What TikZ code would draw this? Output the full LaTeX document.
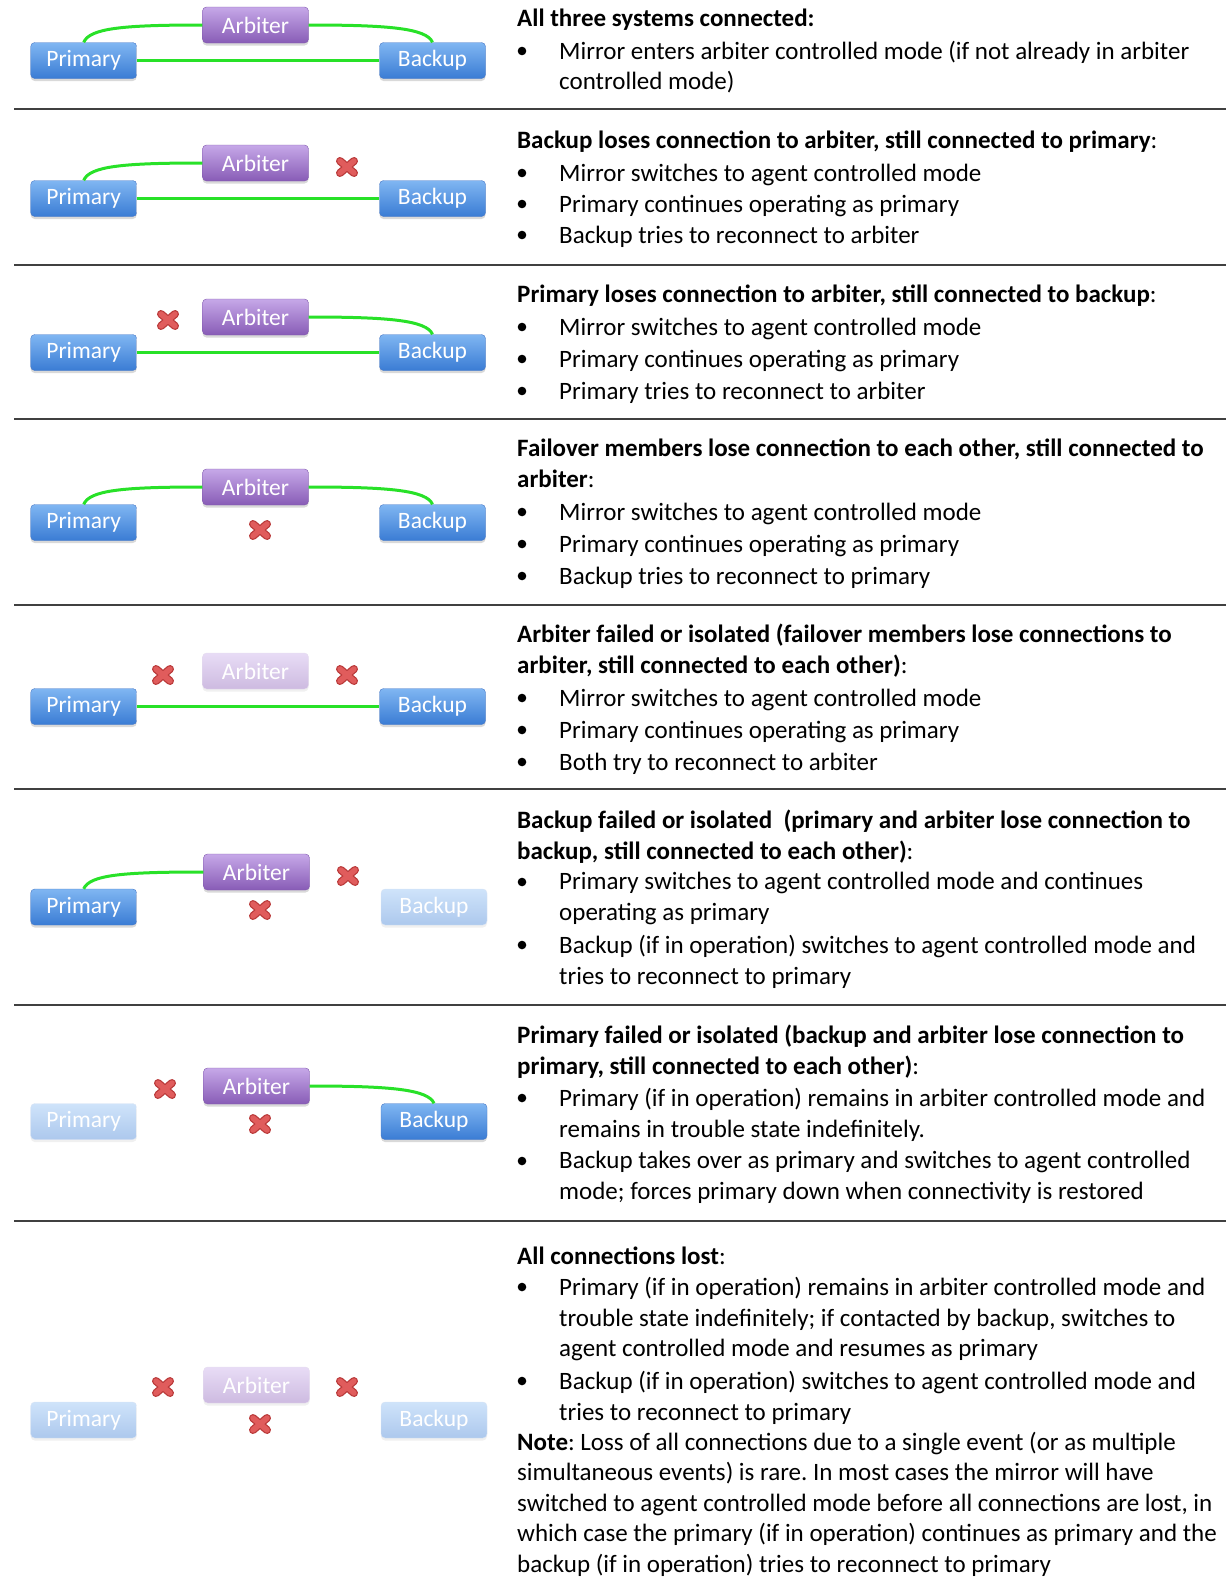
\documentclass[tikz,border=0pt]{standalone}
\usepackage{fontspec}
\setmainfont{Carlito}
\usetikzlibrary{shadows}
\frenchspacing

\definecolor{linkgreen}{RGB}{40,225,40}
\definecolor{bluetop}{RGB}{128,182,242}
\definecolor{bluebot}{RGB}{58,124,212}
\definecolor{blueedge}{RGB}{72,120,198}
\definecolor{purptop}{RGB}{198,168,232}
\definecolor{purpbot}{RGB}{136,92,182}
\definecolor{purpedge}{RGB}{128,88,172}
\definecolor{crossred}{RGB}{224,92,92}
\definecolor{crossedge}{RGB}{186,58,58}
\definecolor{rulegray}{RGB}{64,64,64}

\begin{document}
\begin{tikzpicture}[x=1pt, y=-1pt,
    % Styles
    box/.style={rounded corners=4pt, minimum width=106pt, minimum height=36pt, inner sep=0pt, text=white, font=\fontsize{23.5}{28}\selectfont},
    member/.style={box, draw=blueedge, top color=bluetop, bottom color=bluebot, drop shadow={shadow xshift=0pt, shadow yshift=-2.5pt, opacity=0.3}},
    arbiter/.style={box, draw=purpedge, top color=purptop, bottom color=purpbot, drop shadow={shadow xshift=0pt, shadow yshift=-2.5pt, opacity=0.3}},
    downmember/.style={box, draw=blueedge!20, top color=bluetop!38, bottom color=bluebot!42, drop shadow={shadow xshift=0pt, shadow yshift=-2.5pt, opacity=0.12}},
    downarbiter/.style={box, draw=purpedge!20, top color=purptop!40, bottom color=purpbot!42, drop shadow={shadow xshift=0pt, shadow yshift=-2.5pt, opacity=0.12}},
    link/.style={linkgreen, line width=3pt},
    sep/.style={rulegray, line width=1.6pt},
    txt/.style={anchor=north west, yshift=21pt, inner sep=0pt, align=left, font=\fontsize{25}{30.5}\selectfont, execute at begin node={\rule{0pt}{21pt}}},
    head/.style={txt},
    item/.style={txt},
    lost/.pic={
        \draw[crossedge, line width=8pt, line cap=round] (-7,-6) -- (7,6) (-7,6) -- (7,-6);
        \draw[crossred, line width=5.5pt, line cap=round] (-7,-6) -- (7,6) (-7,6) -- (7,-6);
    },
]
\useasboundingbox (0,0) rectangle (1226,1577);

% Row 1: all three systems connected
\node[arbiter] (arb1) at (255.5,25) {Arbiter};
\node[member] (pri1) at (83.7,60.5) {Primary};
\node[member] (bak1) at (432.5,60.5) {Backup};
\draw[link] (pri1.north) .. controls +(6,-14) and +(-80,0) .. (arb1.west);
\draw[link] (arb1.east) .. controls +(80,0) and +(-6,-14) .. (bak1.north);
\draw[link] (pri1) -- (bak1);

\node[head] (h1) at (517,26) {\textbf{All three systems connected:}};
\node[item] (i11) at (559,62) {Mirror enters arbiter controlled mode (if not already in arbiter\\controlled mode)};
\fill (522,51) circle (4.3pt);

\draw[sep] (14,109) -- (1226,109);

% Row 2: backup loses arbiter
\node[arbiter] (arb2) at (255.5,163) {Arbiter};
\node[member] (pri2) at (83.7,198.5) {Primary};
\node[member] (bak2) at (432.5,198.5) {Backup};
\draw[link] (pri2.north) .. controls +(6,-14) and +(-80,0) .. (arb2.west);
\draw[link] (pri2) -- (bak2);
\pic at (347,167) {lost};

\node[head] (h2) at (517,148) {\textbf{Backup loses connection to arbiter, still connected to primary}:};
\node[item] (i21) at (559,181) {Mirror switches to agent controlled mode};
\node[item] (i22) at (559,212) {Primary continues operating as primary};
\node[item] (i23) at (559,243) {Backup tries to reconnect to arbiter};
\fill (522,173) circle (4.3pt);
\fill (522,204) circle (4.3pt);
\fill (522,235) circle (4.3pt);

\draw[sep] (14,265) -- (1226,265);

% Row 3: primary loses arbiter
\node[arbiter] (arb3) at (255.5,317) {Arbiter};
\node[member] (pri3) at (83.7,352.5) {Primary};
\node[member] (bak3) at (432.5,352.5) {Backup};
\draw[link] (arb3.east) .. controls +(80,0) and +(-6,-14) .. (bak3.north);
\draw[link] (pri3) -- (bak3);
\pic at (168,320) {lost};

\node[head] (h3) at (517,302) {\textbf{Primary loses connection to arbiter, still connected to backup}:};
\node[item] (i31) at (559,335) {Mirror switches to agent controlled mode};
\node[item] (i32) at (559,367) {Primary continues operating as primary};
\node[item] (i33) at (559,399) {Primary tries to reconnect to arbiter};
\fill (522,327) circle (4.3pt);
\fill (522,359) circle (4.3pt);
\fill (522,391) circle (4.3pt);

\draw[sep] (14,419) -- (1226,419);

% Row 4: failover members lose each other
\node[arbiter] (arb4) at (255.5,487) {Arbiter};
\node[member] (pri4) at (83.7,522.5) {Primary};
\node[member] (bak4) at (432.5,522.5) {Backup};
\draw[link] (pri4.north) .. controls +(6,-14) and +(-80,0) .. (arb4.west);
\draw[link] (arb4.east) .. controls +(80,0) and +(-6,-14) .. (bak4.north);
\pic at (260,530) {lost};

\node[head] (h4) at (517,460) {\textbf{Failover members lose connection to each other, still connected to}\\\textbf{arbiter}:};
\node[item] (i41) at (559,520) {Mirror switches to agent controlled mode};
\node[item] (i42) at (559,552) {Primary continues operating as primary};
\node[item] (i43) at (559,584) {Backup tries to reconnect to primary};
\fill (522,512) circle (4.3pt);
\fill (522,544) circle (4.3pt);
\fill (522,576) circle (4.3pt);

\draw[sep] (14,605) -- (1226,605);

% Row 5: arbiter failed or isolated
\node[downarbiter] (arb5) at (255.5,671) {Arbiter};
\node[member] (pri5) at (83.7,706.5) {Primary};
\node[member] (bak5) at (432.5,706.5) {Backup};
\draw[link] (pri5) -- (bak5);
\pic at (163,675) {lost};
\pic at (347,675) {lost};

\node[head] (h5) at (517,645) {\textbf{Arbiter failed or isolated (failover members lose connections to}\\\textbf{arbiter, still connected to each other)}:};
\node[item] (i51) at (559,706) {Mirror switches to agent controlled mode};
\node[item] (i52) at (559,738) {Primary continues operating as primary};
\node[item] (i53) at (559,770) {Both try to reconnect to arbiter};
\fill (522,698) circle (4.3pt);
\fill (522,730) circle (4.3pt);
\fill (522,762) circle (4.3pt);

\draw[sep] (14,789) -- (1226,789);

% Row 6: backup failed or isolated
\node[arbiter] (arb6) at (256.5,872) {Arbiter};
\node[member] (pri6) at (83.7,907) {Primary};
\node[downmember] (bak6) at (434,907) {Backup};
\draw[link] (pri6.north) .. controls +(6,-14) and +(-80,0) .. (arb6.west);
\pic at (348,876) {lost};
\pic at (260,910) {lost};

\node[head] (h6) at (517,831) {\textbf{Backup failed or isolated\ \ (primary and arbiter lose connection to}\\\textbf{backup, still connected to each other)}:};
\node[item] (i61) at (559,893) {Primary switches to agent controlled mode and continues\\operating as primary};
\node[item] (i62) at (559,956) {Backup (if in operation) switches to agent controlled mode and\\tries to reconnect to primary};
\fill (522,882) circle (4.3pt);
\fill (522,945) circle (4.3pt);

\draw[sep] (14,1005) -- (1226,1005);

% Row 7: primary failed or isolated
\node[arbiter] (arb7) at (256.5,1086) {Arbiter};
\node[downmember] (pri7) at (83.7,1121.5) {Primary};
\node[member] (bak7) at (434,1121.5) {Backup};
\draw[link] (arb7.east) .. controls +(80,0) and +(-6,-14) .. (bak7.north);
\pic at (165,1089) {lost};
\pic at (260,1124) {lost};

\node[head] (h7) at (517,1046) {\textbf{Primary failed or isolated (backup and arbiter lose connection to}\\\textbf{primary, still connected to each other)}:};
\node[item] (i71) at (559,1109) {Primary (if in operation) remains in arbiter controlled mode and\\remains in trouble state indefinitely.};
\node[item] (i72) at (559,1172) {Backup takes over as primary and switches to agent controlled\\mode; forces primary down when connectivity is restored};
\fill (522,1098) circle (4.3pt);
\fill (522,1161) circle (4.3pt);

\draw[sep] (14,1221) -- (1226,1221);

% Row 8: all connections lost
\node[downarbiter] (arb8) at (256.5,1385) {Arbiter};
\node[downmember] (pri8) at (83.7,1420) {Primary};
\node[downmember] (bak8) at (434,1420) {Backup};
\pic at (163,1387) {lost};
\pic at (347,1387) {lost};
\pic at (260,1424) {lost};

\node[head] (h8) at (517,1264) {\textbf{All connections lost}:};
\node[item] (i81) at (559,1298) {Primary (if in operation) remains in arbiter controlled mode and\\trouble state indefinitely; if contacted by backup, switches to\\agent controlled mode and resumes as primary};
\node[item] (i82) at (559,1392) {Backup (if in operation) switches to agent controlled mode and\\tries to reconnect to primary};
\fill (522,1287) circle (4.3pt);
\fill (522,1381) circle (4.3pt);
\node[head] (note) at (517,1453) {\textbf{Note}: Loss of all connections due to a single event (or as multiple\\simultaneous events) is rare. In most cases the mirror will have\\switched to agent controlled mode before all connections are lost, in\\which case the primary (if in operation) continues as primary and the\\backup (if in operation) tries to reconnect to primary};

\end{tikzpicture}
\end{document}
